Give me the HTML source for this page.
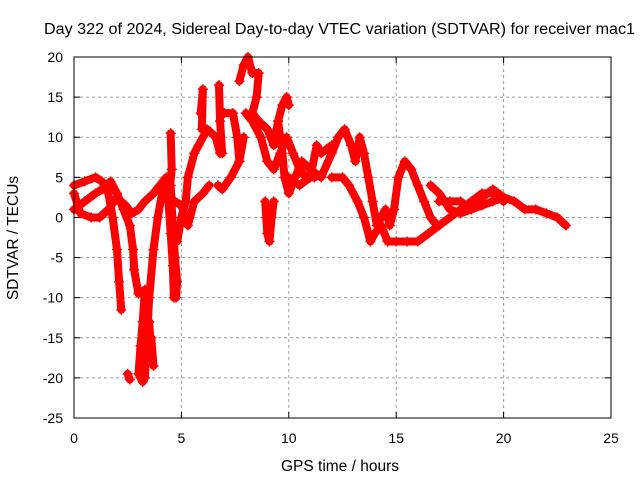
<!DOCTYPE html>
<html><head><meta charset="utf-8"><style>
body{margin:0;background:#fff;}
svg{display:block;font-family:"Liberation Sans",sans-serif;}
</style></head><body>
<svg id="chart" width="640" height="480" viewBox="0 0 640 480">
<rect width="640" height="480" fill="#fff"/>
<text x="44" y="34" font-size="15.5" textLength="591" lengthAdjust="spacingAndGlyphs">Day 322 of 2024, Sidereal Day-to-day VTEC variation (SDTVAR) for receiver mac1</text>
<g id="grid"></g>
<g id="ticks" font-size="14"></g>
<g id="data"></g>
<rect x="74" y="57" width="537" height="361" fill="none" stroke="#000" stroke-width="1"/>
<text x="340" y="471" font-size="15.5" text-anchor="middle">GPS time / hours</text>
<text transform="translate(18,238) rotate(-90)" font-size="15.5" text-anchor="middle">SDTVAR / TECUs</text>
</svg>
<script>
const xTicks=[0,5,10,15,20,25];
const yTicks=[-25,-20,-15,-10,-5,0,5,10,15,20];
const tracks=[
[[0,4],[0.5,4.5],[1,5],[1.3,4.5],[1.6,3],[1.8,0],[2,-4],[2.1,-8],[2.2,-11.5]],
[[0,1],[0.5,2],[1,3],[1.3,3.5],[1.7,4.5],[2,3],[2.3,1],[2.6,-1],[2.75,-4],[2.8,-6.5],[3,-9.5]],
[[0,3],[0.3,0.5],[0.8,0],[1.2,0],[1.6,1],[2,2.5],[2.4,1.5],[2.7,0.5],[3,1],[3.3,2],[3.7,3],[4,4],[4.3,5],[4.5,4],[4.6,-1],[4.7,-5],[4.8,-8],[4.75,-10]],
[[2.5,-19.5],[2.6,-20.2]],
[[3.3,-9],[3.2,-13],[3.1,-16],[3.0,-19.5],[3.2,-20.5]],
[[3.5,-13],[3.6,-17],[3.7,-18.5],[3.6,-15]],
[[3.3,-20],[3.4,-15],[3.5,-10],[3.7,-4],[3.9,0],[4.1,3],[4.3,5]],
[[4.5,10.5],[4.55,6],[4.4,2],[4.5,-2],[4.6,-6],[4.65,-10]],
[[4.8,-3],[5.0,0],[5.2,2],[5.3,5],[5.6,8],[5.8,9],[6.2,11],[6.6,10],[6.8,8]],
[[4.7,2],[5,1.5],[5.3,-1],[5.6,2],[6,3],[6.3,4]],
[[5.95,11],[6.0,16],[5.9,13]],
[[6.75,16.5],[6.8,12],[6.9,8]],
[[6.7,4],[6.9,3.5],[7.3,5],[7.7,7],[7.9,10]],
[[7.0,13],[7.4,13],[7.6,10],[7.7,7]],
[[7.7,17],[7.9,19],[8.1,20],[8.3,18],[8.6,18],[8.5,15],[8.3,13],[8.6,12],[9,11],[9.3,9],[9.5,12],[9.7,14],[9.9,15],[10,14]],
[[8.0,13],[8.3,12],[8.7,10],[9.0,7],[9.3,6],[9.6,8],[9.9,10],[10.2,8],[10.5,6],[10.8,5],[11.2,5]],
[[8.9,2],[8.95,0],[9.0,-2],[9.1,-3],[9.2,0],[9.3,2]],
[[9.5,12],[9.7,8],[9.8,5],[10,3],[10.3,5],[10.6,7],[11,6],[11.5,5],[12,8],[12.3,10],[12.6,11],[12.9,9],[13.1,7],[13.3,10],[13.5,8],[13.7,5],[13.9,2],[14.1,-1],[14.3,0],[14.5,1],[14.7,-1],[14.9,1],[15.1,5],[15.4,7],[15.7,6],[16,4],[16.3,2],[16.6,0],[16.9,-1]],
[[12,5],[12.5,5],[12.8,4],[13.2,2],[13.5,0],[13.8,-3],[14,-2],[14.3,-1],[14.6,-3],[15,-3],[15.5,-3],[16,-3],[16.5,-2],[17,-1],[17.5,0],[18,1],[18.5,2],[19,3],[19.5,3],[20,2]],
[[16.6,4],[17,3],[17.5,1],[18,0.5],[18.5,1],[19,1.5],[19.5,2],[20,2.5],[20.5,2],[21,1],[21.5,1],[22,0.5],[22.5,0],[22.9,-1]],
[[17,2],[17.5,2],[18,2],[18.5,1],[19,2.5],[19.5,3.5],[20,2.5]],
[[10,5],[10.5,4],[11,5],[11.3,9],[11.5,8],[12,9]]
];
const NS='http://www.w3.org/2000/svg';
const X0=74,X1=611,Y0=418,Y1=57;
function xs(t){return X0+(t-0)/(25-0)*(X1-X0);}
function ys(v){return Y0-(v+25)/45*(Y0-Y1);}
function mk(tag,attrs,parent){const e=document.createElementNS(NS,tag);for(const k in attrs)e.setAttribute(k,attrs[k]);parent.appendChild(e);return e;}
const grid=document.getElementById('grid'),ticks=document.getElementById('ticks'),data=document.getElementById('data');
xTicks.forEach(t=>{
  const x=xs(t);
  if(t>0&&t<25){const g=mk('line',{x1:x,x2:x,y1:Y1,y2:Y0,stroke:'#a0a0a0','stroke-dasharray':'3,3'},grid);
  
  }
  mk('line',{x1:x,x2:x,y1:Y0,y2:Y0-6,stroke:'#000'},ticks);
  mk('line',{x1:x,x2:x,y1:Y1,y2:Y1+6,stroke:'#000'},ticks);
  const l=mk('text',{x:x,y:Y0+25,'text-anchor':'middle'},ticks);l.textContent=t;
  
  
});
yTicks.forEach(v=>{
  const y=ys(v);
  if(v>-25&&v<20){const g=mk('line',{x1:X0,x2:X1,y1:y,y2:y,stroke:'#a0a0a0','stroke-dasharray':'3,3'},grid);
  
  }
  mk('line',{x1:X0,x2:X0+6,y1:y,y2:y,stroke:'#000'},ticks);
  mk('line',{x1:X1,x2:X1-6,y1:y,y2:y,stroke:'#000'},ticks);
  const l=mk('text',{x:X0-11,y:y+5,'text-anchor':'end'},ticks);l.textContent=v;
  
  
});
tracks.forEach(tr=>{
  const pts=tr.map(p=>xs(p[0])+','+ys(p[1])).join(' ');
  const pl=mk('polyline',{points:pts,fill:'none',stroke:'#ff0000','stroke-width':8,'stroke-linejoin':'round','stroke-linecap':'round'},data);
  
  
  tr.forEach(p=>{
    const x=xs(p[0]),y=ys(p[1]);
    const m=mk('path',{d:`M${x-5},${y}h10M${x},${y-5}v10`,stroke:'#ff0000','stroke-width':1.5},data);
    
    
  });
});
</script>
</body></html>
